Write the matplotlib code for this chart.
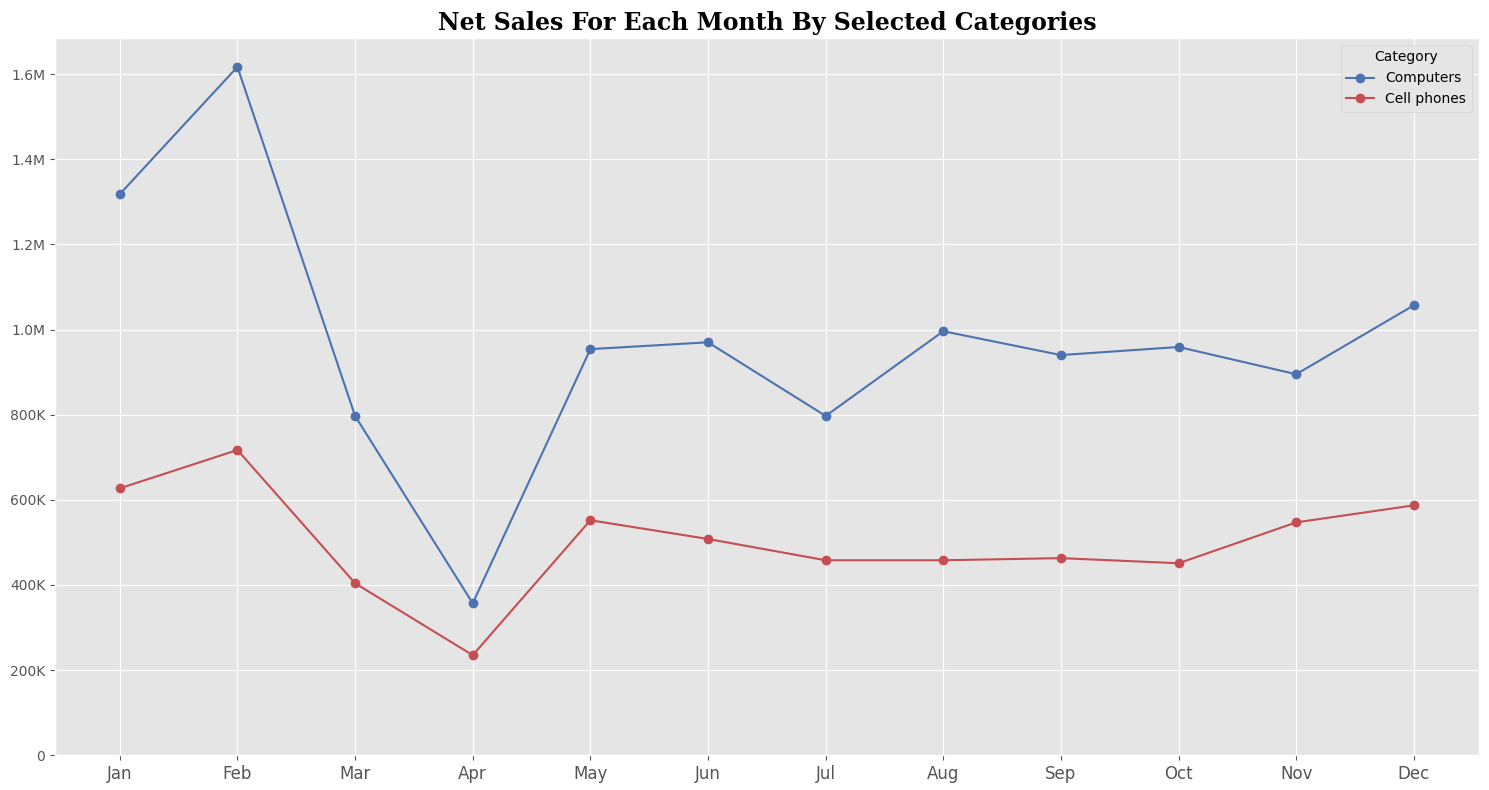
import matplotlib.pyplot as plt
from matplotlib.ticker import FuncFormatter

months = ["Jan", "Feb", "Mar", "Apr", "May", "Jun", "Jul", "Aug", "Sep", "Oct", "Nov", "Dec"]
computers = [1318000, 1617000, 797000, 357000, 954000, 970000, 797000, 996000, 940000, 959000, 895000, 1057000]
cell_phones = [627000, 717000, 404000, 235000, 552000, 508000, 458000, 458000, 463000, 451000, 547000, 587000]


def fmt(v, pos):
    if v == 0:
        return "0"
    if v >= 1e6:
        return f"{v / 1e6:.1f}M"
    return f"{v / 1e3:.0f}K"


plt.style.use("ggplot")
fig, ax = plt.subplots(figsize=(14.89, 7.9), dpi=100)
fig.patch.set_facecolor("white")

ax.plot(months, computers, marker="o", color="#4C72B0", label="Computers", linewidth=1.5, markersize=6)
ax.plot(months, cell_phones, marker="o", color="#C44E52", label="Cell phones", linewidth=1.5, markersize=6)

ax.set_title("Net Sales For Each Month By Selected Categories", fontsize=17, fontweight="bold",
             family="DejaVu Serif", color="black")
ax.yaxis.set_major_formatter(FuncFormatter(fmt))
ax.set_ylim(0, 1685000)
ax.tick_params(axis="x", labelsize=12)
ax.tick_params(axis="y", labelsize=10)
ax.legend(title="Category", loc="upper right", fontsize=10, title_fontsize=10)

plt.tight_layout()
plt.subplots_adjust(left=0.037, right=0.993, top=0.952, bottom=0.044)
plt.savefig("out.png")
plt.close()
